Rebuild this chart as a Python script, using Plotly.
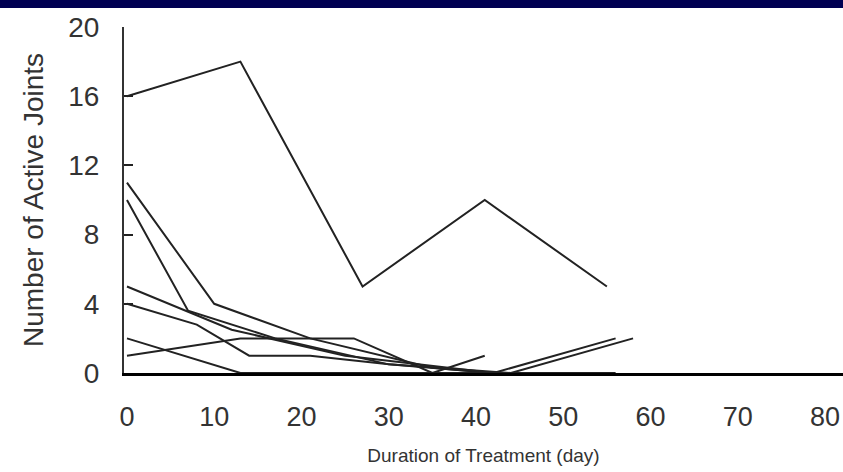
import plotly.graph_objects as go

# Duration of treatment (day) and number of active joints per patient
days_p1 = [0, 13, 27, 41, 55]
joints_p1 = [16, 18, 5, 10, 5]

days_p2 = [0, 10, 21, 35, 42]
joints_p2 = [11, 4, 2, 0.3, 0]

days_p3 = [0, 7, 17, 30, 42]
joints_p3 = [10, 3.6, 2, 0.5, 0]

days_p4 = [0, 12, 25, 42, 56]
joints_p4 = [5, 2.5, 1, 0, 2]

days_p5 = [0, 8, 14, 21, 30, 44, 58]
joints_p5 = [4, 2.8, 1, 1, 0.5, 0, 2]

days_p6 = [0, 13, 26, 35, 41]
joints_p6 = [1, 2, 2, 0, 1]

days_p7 = [0, 13, 28, 42, 56]
joints_p7 = [2, 0, 0, 0, 0]

patients = [
    (days_p1, joints_p1), (days_p2, joints_p2), (days_p3, joints_p3),
    (days_p4, joints_p4), (days_p5, joints_p5), (days_p6, joints_p6),
    (days_p7, joints_p7),
]

x_ticks = [0, 10, 20, 30, 40, 50, 60, 70, 80]
y_ticks = [0, 4, 8, 12, 16, 20]

fig = go.Figure()
for d, j in patients:
    fig.add_trace(go.Scatter(x=d, y=j, mode="lines",
                             line=dict(color="#222222", width=2),
                             showlegend=False, hoverinfo="skip"))

font_family = "Liberation Sans, Arial, sans-serif"

fig.update_layout(
    width=843, height=472,
    margin=dict(l=124, r=0, t=27, b=99),
    paper_bgcolor="white", plot_bgcolor="white",
    font=dict(family=font_family, color="#333333"),
    xaxis=dict(
        range=[-0.34, 82.06], tickvals=x_ticks, ticks="",
        showgrid=False, zeroline=False,
        showline=True, linecolor="black", linewidth=3,
        tickfont=dict(size=27, color="#333333"),
        ticklabelstandoff=18,
        title=dict(text="Duration of Treatment (day)",
                   font=dict(size=19, color="#333333"), standoff=18),
    ),
    yaxis=dict(
        range=[0, 20], tickvals=y_ticks, ticks="inside", ticklen=9,
        tickwidth=2, tickcolor="#222222",
        showgrid=False, zeroline=False,
        showline=True, linecolor="#333333", linewidth=2,
        tickfont=dict(size=28, color="#333333"),
        ticklabelstandoff=17,
        title=dict(text="Number of Active Joints",
                   font=dict(size=28, color="#333333"), standoff=16),
    ),
    shapes=[dict(type="rect", xref="paper", yref="paper",
                 x0=-0.3, x1=1.05, y0=1 + 19 / 346, y1=1.2,
                 fillcolor="#000052", line=dict(width=0), layer="above")],
)

fig.write_html("out.html")
